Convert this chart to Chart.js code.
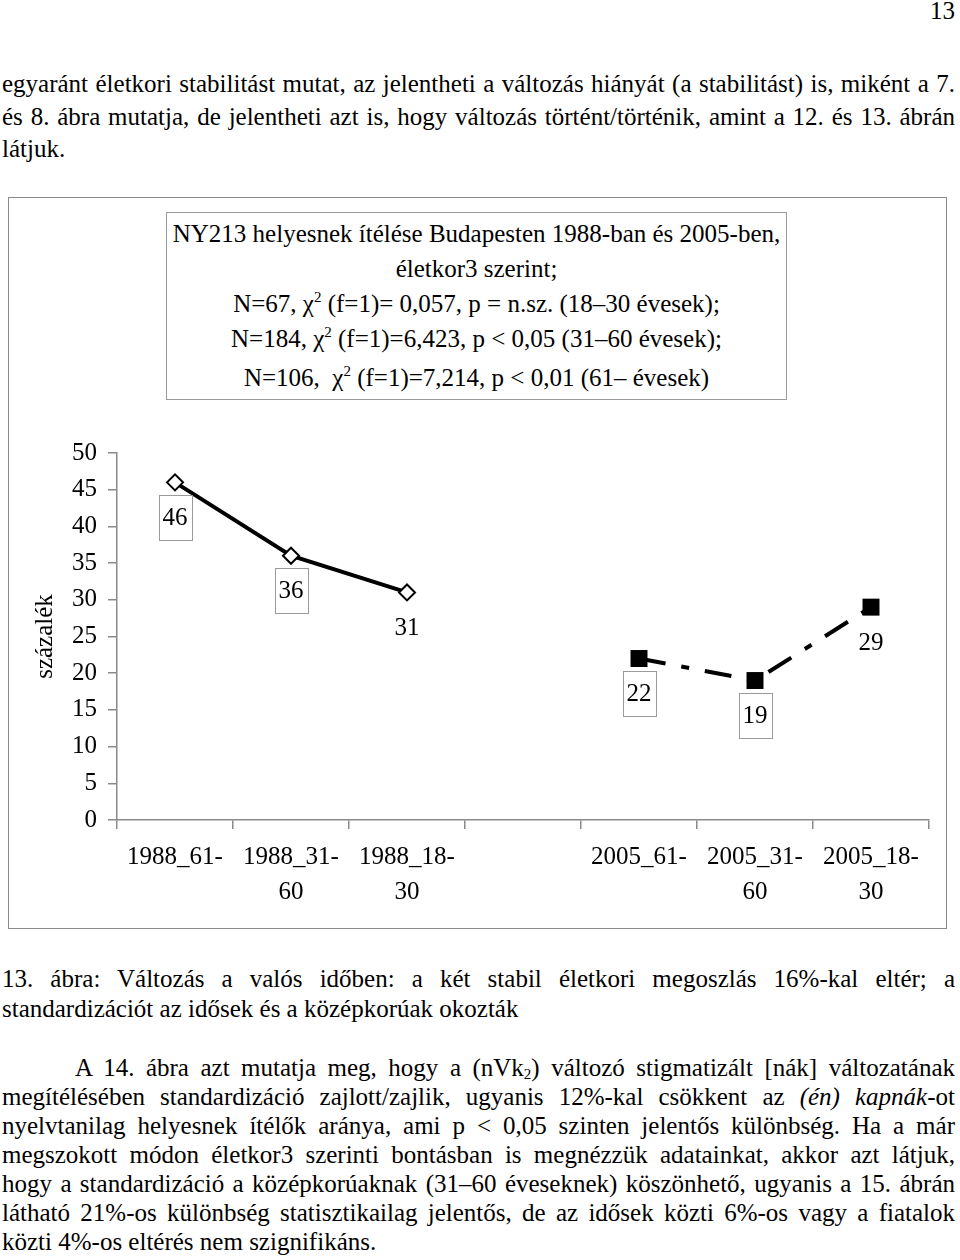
<!DOCTYPE html>
<html lang="hu">
<head>
<meta charset="utf-8">
<script src="https://cdn.jsdelivr.net/npm/chart.js@4.4.1/dist/chart.umd.min.js"></script>
<style>
    html, body { margin: 0; padding: 0; background: #fff; }
    body {
        width: 960px;
        height: 1260px;
        position: relative;
        overflow: hidden;
        font-family: "Liberation Serif", "Times New Roman", serif;
        font-size: 25px;
        color: #000;
    }
    .blokk { position: absolute; left: 2px; width: 953px; }
    .sor { text-align: justify; text-align-last: justify; white-space: nowrap; }
    .sor.utolso { text-align-last: left; }
    #oldalszam { position: absolute; right: 5px; top: -5px; line-height: 32.5px; }
    #keret {
        position: absolute; left: 8px; top: 197px; width: 939px; height: 732px;
        border: 1.5px solid #8a8a8a; box-sizing: border-box;
    }
    #grafika { position: absolute; left: 10px; top: 199px; }
    #cim {
        position: absolute; left: 166px; top: 212px; width: 621px; height: 188px;
        border: 1px solid #9a9a9a; box-sizing: border-box; background: #fff;
        text-align: center; line-height: 35px; padding-top: 3px;
    }
    sup { font-size: 0.6em; line-height: 0; vertical-align: 0.65em; }
    sub { font-size: 0.6em; line-height: 0; vertical-align: -0.2em; }
</style>
</head>
<body>
<div id="oldalszam">13</div>

<div class="blokk" style="top:68px; line-height:32.5px;">
    <div class="sor">egyaránt életkori stabilitást mutat, az jelentheti a változás hiányát (a stabilitást) is, miként a 7.</div>
    <div class="sor">és 8. ábra mutatja, de jelentheti azt is, hogy változás történt/történik, amint a 12. és 13. ábrán</div>
    <div class="sor utolso">látjuk.</div>
</div>

<div id="keret"></div>
<canvas id="grafika" width="934" height="727"></canvas>
<div id="cim">
    <div>NY213 helyesnek ítélése Budapesten 1988-ban és 2005-ben,</div>
    <div>életkor3 szerint;</div>
    <div>N=67, χ<sup>2</sup> (f=1)= 0,057, p = n.sz. (18–30 évesek);</div>
    <div>N=184, χ<sup>2</sup> (f=1)=6,423, p &lt; 0,05 (31–60 évesek);</div>
    <div style="padding-top:4px;">N=106,&nbsp; χ<sup>2</sup> (f=1)=7,214, p &lt; 0,01 (61– évesek)</div>
</div>

<div class="blokk" style="top:964px; line-height:30px;">
    <div class="sor">13. ábra: Változás a valós időben: a két stabil életkori megoszlás 16%-kal eltér; a</div>
    <div class="sor utolso">standardizációt az idősek és a középkorúak okozták</div>
</div>

<div class="blokk" style="top:1053px; line-height:29px;">
    <div class="sor" style="padding-left:73px;">A 14. ábra azt mutatja meg, hogy a (nVk<sub>2</sub>) változó stigmatizált [nák] változatának</div>
    <div class="sor">megítélésében standardizáció zajlott/zajlik, ugyanis 12%-kal csökkent az <i>(én) kapnák</i>-ot</div>
    <div class="sor">nyelvtanilag helyesnek ítélők aránya, ami p &lt; 0,05 szinten jelentős különbség. Ha a már</div>
    <div class="sor">megszokott módon életkor3 szerinti bontásban is megnézzük adatainkat, akkor azt látjuk,</div>
    <div class="sor">hogy a standardizáció a középkorúaknak (31–60 éveseknek) köszönhető, ugyanis a 15. ábrán</div>
    <div class="sor">látható 21%-os különbség statisztikailag jelentős, de az idősek közti 6%-os vagy a fiatalok</div>
    <div class="sor utolso">közti 4%-os eltérés nem szignifikáns.</div>
</div>

<script>
// adatok
const kategoriak = [
    "1988_61-",
    ["1988_31-", "60"],
    ["1988_18-", "30"],
    "",
    "2005_61-",
    ["2005_31-", "60"],
    ["2005_18-", "30"],
];
const ertekek1988 = [46, 36, 31];
const ertekek2005 = [22, 19, 29];
const tengelyCim = "százalék";
const yMin = 0;
const yMax = 50;
const yLepes = 5;

const betu = '"Liberation Serif", "Times New Roman", serif';
Chart.defaults.font.family = betu;
Chart.defaults.color = "#000";

// az egyes sorozatok a saját kategóriáikon
const adat1988 = [...ertekek1988, null, null, null, null];
const adat2005 = [null, null, null, null, ...ertekek2005];

// értékcímkék, egy részük keretben
const cimkek = {
    id: "cimkek",
    afterDatasetsDraw(chart) {
        const ctx = chart.ctx;
        ctx.save();
        ctx.font = "25px " + betu;
        ctx.textAlign = "center";
        ctx.textBaseline = "middle";
        chart.data.datasets.forEach((ds, di) => {
            const meta = chart.getDatasetMeta(di);
            meta.data.forEach((pont, i) => {
                const v = ds.data[i];
                if (v === null || v === undefined) return;
                const x = pont.x;
                const y = pont.y + 35;
                const szoveg = String(v);
                if (ds.cimkeKeret && ds.cimkeKeret[i]) {
                    const w = ctx.measureText(szoveg).width + 8;
                    ctx.fillStyle = "#fff";
                    ctx.fillRect(x - w / 2, y - 22.5, w, 45);
                    ctx.strokeStyle = "#9a9a9a";
                    ctx.lineWidth = 1;
                    ctx.strokeRect(Math.round(x - w / 2) + 0.5, Math.round(y - 22.5) + 0.5, Math.round(w), 45);
                }
                ctx.fillStyle = "#000";
                ctx.fillText(szoveg, x, y + 1);
            });
        });
        ctx.restore();
    }
};

const grafika = document.getElementById("grafika");

new Chart(grafika, {
    type: "line",
    data: {
        labels: kategoriak,
        datasets: [
            {
                label: "1988",
                data: adat1988,
                borderColor: "#000",
                borderWidth: 4,
                pointStyle: "rectRot",
                pointRadius: 8,
                pointBackgroundColor: "#fff",
                pointBorderColor: "#000",
                pointBorderWidth: 2,
                tension: 0,
                cimkeKeret: [true, true, false],
            },
            {
                label: "2005",
                data: adat2005,
                borderColor: "#000",
                borderWidth: 4,
                borderDash: [27, 16, 8, 16],
                pointStyle: "rect",
                pointRadius: 12,
                pointBackgroundColor: "#000",
                pointBorderColor: "#000",
                pointBorderWidth: 0,
                tension: 0,
                cimkeKeret: [false, false, false, false, true, true, false],
            },
        ],
    },
    options: {
        responsive: false,
        animation: false,
        events: [],
        layout: { padding: { left: 0, right: 15, top: 254, bottom: 0 } },
        plugins: {
            legend: { display: false },
            tooltip: { enabled: false },
            title: { display: false },
        },
        scales: {
            x: {
                offset: true,
                afterFit: (s) => { s.height = 106; },
                grid: {
                    offset: true,
                    drawOnChartArea: false,
                    drawTicks: true,
                    tickLength: 9,
                    color: "#8a8a8a",
                    lineWidth: 1.5,
                },
                border: { color: "#8a8a8a", width: 1.5 },
                ticks: {
                    autoSkip: false,
                    maxRotation: 0,
                    padding: 11,
                    font: { size: 25, lineHeight: 1.4 },
                    color: "#000",
                },
            },
            y: {
                min: yMin,
                max: yMax,
                afterFit: (s) => { s.width = 107; },
                grid: {
                    drawOnChartArea: false,
                    drawTicks: true,
                    tickLength: 9,
                    color: "#8a8a8a",
                    lineWidth: 1.5,
                },
                border: { color: "#8a8a8a", width: 1.5 },
                ticks: {
                    stepSize: yLepes,
                    padding: 11,
                    font: { size: 25 },
                    color: "#000",
                },
                title: {
                    display: true,
                    text: tengelyCim,
                    font: { size: 25 },
                    color: "#000",
                    padding: { top: 20, bottom: 0 },
                },
            },
        },
    },
    plugins: [cimkek],
});
</script>
</body>
</html>
